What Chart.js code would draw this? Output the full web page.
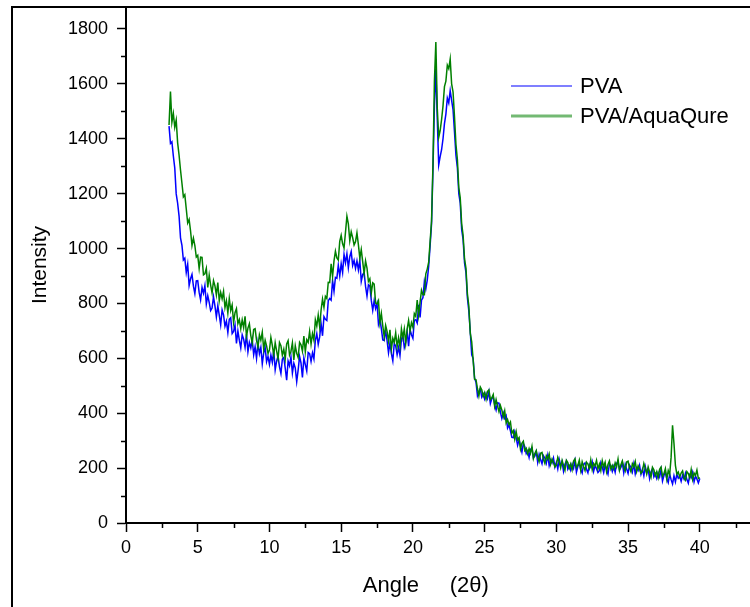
<!DOCTYPE html>
<html lang="en">
<head>
    <meta charset="UTF-8">
    <title>XRD PVA</title>
    <script src="https://cdn.jsdelivr.net/npm/chart.js"></script>
    <style>
        html, body { margin: 0; padding: 0; background: #fff; overflow: hidden; }
        #frame {
            position: absolute; left: 11px; top: 6px; width: 900px; height: 900px;
            border-left: 2px solid #000; border-top: 2px solid #000;
        }
        #xrdChart { position: absolute; left: 0; top: 0; }
    </style>
</head>
<body>
    <div id="frame"></div>
    <canvas id="xrdChart" width="750" height="607"></canvas>

    <script>
        // scan grid: 2-theta from 3.0 to 40.0, one reading every 0.1 degree
        var angleStart = 3.0;
        var angleStep = 0.1;

        var seriesNames = ['PVA', 'PVA/AquaQure'];

        // PVA intensity, one row per degree (x.0 ... x.9)
        var pva = [
            1446, 1383, 1389, 1337, 1293, 1199, 1165, 1118, 1039, 1012,
            958, 965, 912, 943, 865, 890, 906, 863, 836, 882,
            883, 840, 813, 858, 837, 865, 798, 828, 804, 774,
            783, 824, 791, 751, 791, 757, 722, 776, 758, 717,
            735, 694, 742, 748, 690, 698, 722, 654, 700, 666,
            638, 686, 670, 640, 688, 624, 658, 638, 668, 613,
            642, 600, 657, 617, 640, 580, 620, 639, 588, 607,
            578, 612, 586, 629, 558, 590, 609, 569, 545, 597,
            603, 564, 520, 590, 573, 605, 546, 582, 565, 515,
            557, 607, 583, 530, 602, 577, 554, 621, 617, 589,
            620, 598, 665, 690, 651, 678, 726, 682, 752, 742,
            738, 810, 818, 812, 884, 844, 895, 892, 939, 900,
            945, 913, 979, 948, 981, 930, 970, 989, 938, 957,
            928, 955, 922, 958, 880, 905, 913, 862, 827, 868,
            863, 811, 775, 811, 781, 800, 724, 743, 708, 667,
            665, 702, 664, 620, 656, 617, 591, 654, 645, 613,
            640, 610, 669, 686, 639, 658, 697, 644, 705, 686,
            673, 739, 741, 729, 795, 749, 812, 821, 880, 853,
            885, 935, 1010, 1090, 1290, 1520, 1655, 1470, 1305, 1335,
            1360, 1400, 1455, 1490, 1548, 1530, 1575, 1540, 1505, 1425,
            1340, 1295, 1200, 1165, 1070, 1032, 948, 912, 820, 772,
            696, 613, 599, 527, 513, 464, 480, 490, 459, 470,
            452, 471, 454, 479, 435, 453, 460, 431, 412, 438,
            437, 404, 381, 401, 381, 391, 346, 357, 336, 312,
            311, 333, 310, 283, 304, 280, 258, 290, 278, 253,
            263, 239, 268, 273, 238, 244, 260, 221, 250, 231,
            216, 245, 236, 218, 247, 209, 230, 219, 237, 204,
            221, 197, 232, 209, 224, 189, 214, 226, 196, 208,
            192, 214, 199, 227, 185, 206, 219, 195, 182, 214,
            219, 196, 183, 213, 203, 223, 188, 209, 198, 184,
            191, 220, 204, 184, 212, 195, 178, 215, 208, 188,
            206, 185, 217, 225, 193, 202, 220, 183, 214, 197,
            181, 211, 203, 186, 216, 179, 201, 191, 210, 178,
            196, 172, 206, 183, 197, 162, 187, 198, 168, 179,
            162, 183, 168, 195, 153, 173, 185, 161, 147, 178,
            158, 142, 172, 150, 178, 163, 170, 152, 174, 160,
            181, 158, 145, 175, 165, 185, 150, 171, 160, 146,
            162
        ];

        // PVA/AquaQure intensity, same grid
        var pvaAqua = [
            1450, 1572, 1460, 1492, 1442, 1468, 1385, 1340, 1286, 1238,
            1188, 1196, 1145, 1093, 1106, 1064, 1011, 1038, 1011, 969,
            975, 927, 969, 968, 904, 908, 928, 858, 903, 867,
            838, 883, 864, 831, 876, 809, 840, 817, 844, 785,
            810, 765, 818, 774, 794, 730, 766, 781, 726, 741,
            708, 740, 712, 753, 680, 710, 726, 683, 656, 705,
            708, 666, 640, 686, 666, 695, 633, 666, 645, 618,
            630, 676, 647, 612, 657, 627, 598, 658, 646, 611,
            633, 598, 652, 664, 612, 626, 656, 594, 646, 618,
            603, 658, 649, 626, 681, 624, 668, 658, 698, 652,
            690, 666, 740, 717, 758, 715, 776, 816, 786, 826,
            818, 877, 876, 944, 898, 955, 990, 966, 958, 1026,
            1048, 1017, 1002, 1059, 1118, 1090, 1028, 1061, 1040, 1013,
            1025, 1057, 1014, 965, 996, 952, 909, 955, 929, 880,
            890, 838, 875, 870, 801, 798, 810, 730, 764, 718,
            678, 720, 698, 662, 704, 634, 673, 658, 693, 642,
            675, 642, 707, 675, 707, 655, 707, 738, 699, 730,
            713, 763, 753, 812, 757, 805, 848, 832, 832, 908,
            925, 950, 1025, 1100, 1310, 1610, 1752, 1510, 1405, 1430,
            1470, 1520, 1590, 1610, 1668, 1655, 1690, 1600, 1570, 1480,
            1380, 1325, 1222, 1185, 1090, 1048, 962, 928, 835, 790,
            691, 660, 594, 524, 522, 490, 463, 495, 485, 462,
            475, 451, 480, 485, 450, 456, 468, 425, 450, 427,
            406, 428, 412, 387, 409, 364, 377, 358, 368, 327,
            336, 305, 333, 303, 311, 269, 290, 298, 264, 272,
            252, 271, 254, 279, 235, 253, 264, 239, 224, 254,
            257, 232, 217, 245, 233, 251, 214, 233, 220, 204,
            211, 239, 222, 201, 228, 210, 192, 228, 220, 200,
            215, 194, 226, 234, 202, 211, 229, 192, 223, 206,
            191, 222, 215, 199, 230, 194, 217, 208, 228, 197,
            214, 191, 227, 205, 221, 187, 213, 226, 197, 210,
            197, 219, 205, 233, 192, 212, 226, 203, 190, 222,
            225, 201, 187, 216, 205, 224, 188, 208, 196, 181,
            189, 217, 199, 178, 204, 186, 167, 203, 194, 173,
            187, 165, 196, 204, 171, 180, 198, 160, 191, 176,
            240, 356, 290, 210, 178, 186, 168, 182, 190, 164,
            156, 187, 180, 164, 195, 159, 182, 173, 193, 162,
            165
        ];

        // axis ranges and tick steps
        var xMin = 0, xMax = 43.5, xStep = 5, xMinorStep = 2.5;
        var yMin = 0, yMax = 1880, yStep = 200, yMinorStep = 100;

        var FONT = '"Liberation Sans", Arial, sans-serif';

        function toPoints(values) {
            return values.map(function (v, i) {
                return { x: Math.round((angleStart + i * angleStep) * 10) / 10, y: v };
            });
        }

        // short minor ticks outside the axes
        var minorTicks = {
            id: 'minorTicks',
            afterDraw: function (chart) {
                var ctx = chart.ctx, xs = chart.scales.x, ys = chart.scales.y;
                var area = chart.chartArea;
                ctx.save();
                ctx.strokeStyle = '#000';
                ctx.lineWidth = 1.5;
                ctx.beginPath();
                for (var v = xMinorStep; v < xMax; v += xStep) {
                    var px = Math.round(xs.getPixelForValue(v)) + 0.5;
                    ctx.moveTo(px, area.bottom);
                    ctx.lineTo(px, area.bottom + 5);
                }
                for (var w = yMinorStep; w < yMax; w += yStep) {
                    var py = Math.round(ys.getPixelForValue(w)) + 0.5;
                    ctx.moveTo(area.left, py);
                    ctx.lineTo(area.left - 5, py);
                }
                ctx.stroke();
                ctx.restore();
            }
        };

        // legend inside the plot, top right
        var insideLegend = {
            id: 'insideLegend',
            afterDraw: function (chart) {
                var ctx = chart.ctx;
                var rows = [
                    { y: 86, width: 1.2, color: '#0000ff' },
                    { y: 116, width: 3, color: 'rgba(0,128,0,0.55)' }
                ];
                ctx.save();
                ctx.font = '22px ' + FONT;
                ctx.textBaseline = 'middle';
                ctx.fillStyle = '#000';
                chart.data.datasets.forEach(function (ds, i) {
                    var r = rows[i];
                    ctx.strokeStyle = r.color;
                    ctx.lineWidth = r.width;
                    ctx.beginPath();
                    ctx.moveTo(511, r.y);
                    ctx.lineTo(572, r.y);
                    ctx.stroke();
                    ctx.fillText(ds.label, 580, r.y + 1);
                });
                ctx.restore();
            }
        };

        var ctx = document.getElementById('xrdChart').getContext('2d');
        new Chart(ctx, {
            type: 'line',
            data: {
                datasets: [{
                    label: seriesNames[0],
                    data: toPoints(pva),
                    borderColor: '#0000ff',
                    borderWidth: 1.5,
                    pointRadius: 0,
                    order: 1
                }, {
                    label: seriesNames[1],
                    data: toPoints(pvaAqua),
                    borderColor: '#008000',
                    borderWidth: 1.5,
                    pointRadius: 0,
                    order: 0
                }]
            },
            options: {
                responsive: false,
                animation: false,
                layout: { padding: { top: 7, left: 0, right: 0, bottom: 0 } },
                plugins: {
                    legend: { display: false },
                    tooltip: { enabled: false }
                },
                scales: {
                    x: {
                        type: 'linear',
                        min: xMin,
                        max: xMax,
                        afterFit: function (s) {
                            s.height = 84;
                            s.paddingLeft = 0;
                            s.paddingRight = 0;
                        },
                        border: { display: true, color: '#000', width: 2 },
                        grid: {
                            drawOnChartArea: false,
                            drawTicks: true,
                            tickLength: 9,
                            tickColor: '#000',
                            tickWidth: 1.5
                        },
                        ticks: {
                            stepSize: xStep,
                            includeBounds: false,
                            maxRotation: 0,
                            color: '#000',
                            padding: 5,
                            font: { family: FONT, size: 18 },
                            callback: function (v) { return String(v); }
                        },
                        title: {
                            display: true,
                            text: 'Angle     (2\u03b8)    ',
                            color: '#000',
                            font: { family: FONT, size: 22 },
                            padding: { top: 0, bottom: 8 }
                        }
                    },
                    y: {
                        min: yMin,
                        max: yMax,
                        afterFit: function (s) {
                            s.width = 126;
                            s.paddingTop = 0;
                            s.paddingBottom = 0;
                        },
                        border: { display: true, color: '#000', width: 2 },
                        grid: {
                            drawOnChartArea: false,
                            drawTicks: true,
                            tickLength: 9,
                            tickColor: '#000',
                            tickWidth: 1.5
                        },
                        ticks: {
                            stepSize: yStep,
                            includeBounds: false,
                            color: '#000',
                            padding: 9,
                            font: { family: FONT, size: 18 },
                            callback: function (v) { return String(v); }
                        },
                        title: {
                            display: true,
                            text: 'Intensity',
                            color: '#000',
                            font: { family: FONT, size: 21 },
                            padding: { top: 28, bottom: 0 }
                        }
                    }
                }
            },
            plugins: [minorTicks, insideLegend]
        });
    </script>
</body>
</html>
